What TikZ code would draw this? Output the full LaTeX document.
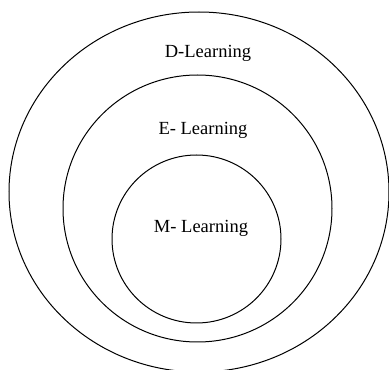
\documentclass[tikz,border=0pt]{standalone}
\usepackage{fontspec}
\setmainfont{Liberation Serif}
\usepackage{tikz}

\begin{document}
\begin{tikzpicture}[x=1pt, y=1pt, ring/.style={line width=1pt, black}, lbl/.style={font=\fontsize{18.5}{20}\selectfont, text=black}]
    % 1. MARC DE LA FIGURA
    \useasboundingbox (0,0) rectangle (389,370);

    % 2. ELS TRES CERCLES
    \draw[ring] (199,178) ellipse (190 and 180);
    \draw[ring] (197.5,161.5) ellipse (134.5 and 133.5);
    \draw[ring] (196.5,131) ellipse (84.5 and 84);

    % 3. ETIQUETES
    \node[lbl] (dlearn) at (208,317) {D-Learning};
    \node[lbl] (elearn) at (203,240) {E- Learning};
    \node[lbl] (mlearn) at (201,142) {M- Learning};

\end{tikzpicture}
\end{document}
